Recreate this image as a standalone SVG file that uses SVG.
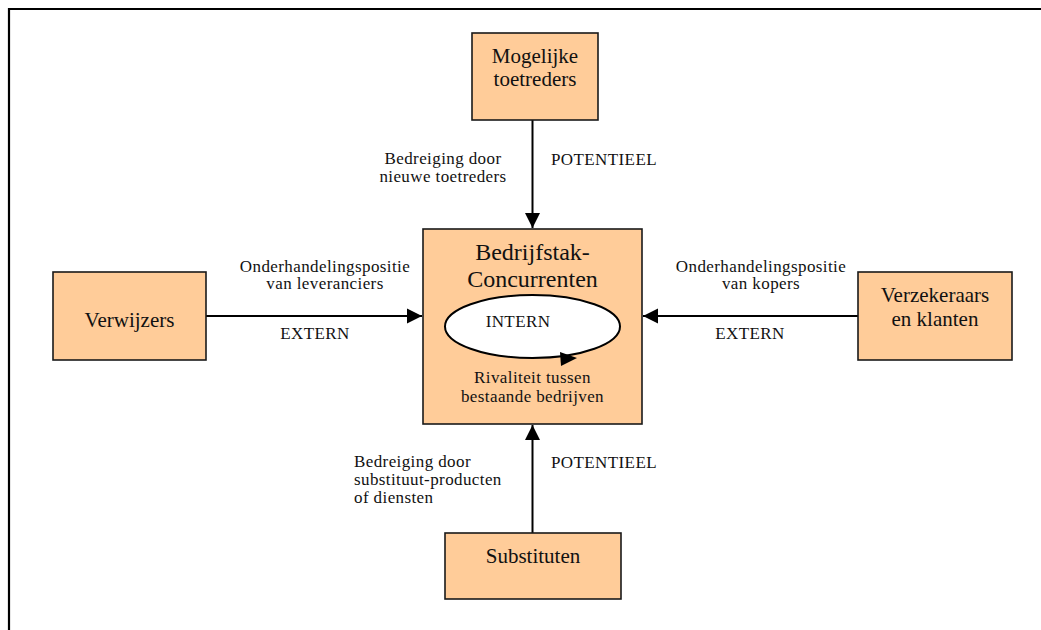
<svg xmlns="http://www.w3.org/2000/svg" width="1041" height="630" viewBox="0 0 1041 630">
  <style>
    .box { fill: #FFCC99; stroke: #1a1a1a; stroke-width: 1.6; }
    .node { font-family: "Liberation Serif", "Times New Roman", serif; font-size: 21px; fill: #111; text-anchor: middle; }
    .title { font-family: "Liberation Serif", "Times New Roman", serif; font-size: 24px; fill: #111; text-anchor: middle; }
    .lbl { font-family: "Liberation Serif", "Times New Roman", serif; font-size: 17px; letter-spacing: 0.4px; fill: #111; }
    .mid { text-anchor: middle; }
    .edge { stroke: #000; stroke-width: 2; fill: none; }
  </style>
  <defs>
    <marker id="arrow" viewBox="0 0 10 10" refX="10" refY="5" markerWidth="7.5" markerHeight="8" markerUnits="strokeWidth" orient="auto">
      <path d="M0,0 L10,5 L0,10 Z" fill="#000"/>
    </marker>
  </defs>

  <rect width="1041" height="630" fill="#fff"/>
  <!-- outer frame: top and left rules only -->
  <path d="M9,630 V9 H1041" stroke="#000" stroke-width="2.2" fill="none"/>

  <g id="connectors">
    <line class="edge" x1="532.5" y1="120" x2="532.5" y2="228" marker-end="url(#arrow)"/>
    <line class="edge" x1="532.5" y1="533" x2="532.5" y2="425" marker-end="url(#arrow)"/>
    <line class="edge" x1="206" y1="316" x2="422" y2="316" marker-end="url(#arrow)"/>
    <line class="edge" x1="858" y1="316" x2="643" y2="316" marker-end="url(#arrow)"/>
  </g>

  <g id="node-toetreders">
    <rect class="box" x="472" y="33" width="126" height="87"/>
    <text class="node" x="535" y="63">Mogelijke</text>
    <text class="node" x="535" y="86">toetreders</text>
  </g>

  <g id="node-concurrenten">
    <rect class="box" x="423" y="229" width="219" height="195"/>
    <text class="title" x="532.5" y="260">Bedrijfstak-</text>
    <text class="title" x="532.5" y="287">Concurrenten</text>
    <ellipse cx="532.5" cy="326.5" rx="87.5" ry="31.5" fill="#fff" stroke="#000" stroke-width="2"/>
    <path d="M560,352 L577,358 L561,366 Z" fill="#000"/>
    <text class="lbl mid" x="518" y="327">INTERN</text>
    <text class="lbl mid" x="532.5" y="383">Rivaliteit tussen</text>
    <text class="lbl mid" x="532.5" y="402">bestaande bedrijven</text>
  </g>

  <g id="node-verwijzers">
    <rect class="box" x="53" y="272" width="153" height="88"/>
    <text class="node" x="129.5" y="327">Verwijzers</text>
  </g>

  <g id="node-verzekeraars">
    <rect class="box" x="858" y="272" width="154" height="88"/>
    <text class="node" x="935" y="302">Verzekeraars</text>
    <text class="node" x="935" y="326">en klanten</text>
  </g>

  <g id="node-substituten">
    <rect class="box" x="445" y="533" width="176" height="66"/>
    <text class="node" x="533" y="563">Substituten</text>
  </g>

  <g id="labels">
    <text class="lbl mid" x="443" y="164">Bedreiging door</text>
    <text class="lbl mid" x="443" y="182">nieuwe toetreders</text>
    <text class="lbl" x="551" y="165">POTENTIEEL</text>

    <text class="lbl mid" x="325" y="272">Onderhandelingspositie</text>
    <text class="lbl mid" x="325" y="289">van leveranciers</text>
    <text class="lbl mid" x="315" y="339">EXTERN</text>

    <text class="lbl mid" x="761" y="272">Onderhandelingspositie</text>
    <text class="lbl mid" x="761" y="289">van kopers</text>
    <text class="lbl mid" x="750" y="339">EXTERN</text>

    <text class="lbl" x="354" y="467">Bedreiging door</text>
    <text class="lbl" x="354" y="485">substituut-producten</text>
    <text class="lbl" x="354" y="503">of diensten</text>
    <text class="lbl" x="551" y="468">POTENTIEEL</text>
  </g>
</svg>
